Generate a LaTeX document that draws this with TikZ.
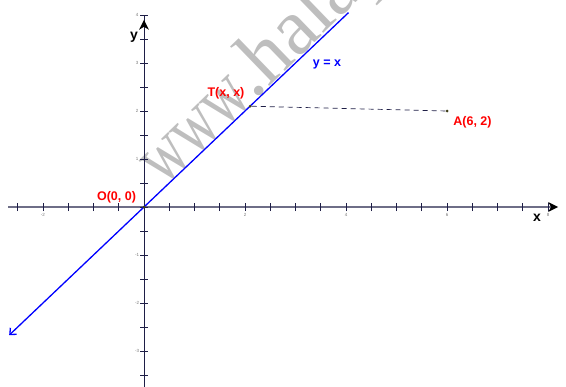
\documentclass[tikz,border=0pt]{standalone}
\usepackage{fontspec}
\setmainfont{Liberation Sans}
\newfontfamily\wmfont{Liberation Serif}
\usetikzlibrary{arrows.meta}
\definecolor{axisnavy}{RGB}{30,30,70}
\definecolor{axisgray}{RGB}{110,110,135}
\definecolor{ptred}{RGB}{255,0,0}
\definecolor{lineblue}{RGB}{0,0,255}
\definecolor{tickgray}{RGB}{120,120,120}
\definecolor{wmgray}{RGB}{190,190,190}
\definecolor{dotcol}{RGB}{60,60,20}
\begin{document}
\begin{tikzpicture}[x=50.5pt,y=48pt,
 lbl/.style={font=\fontsize{12.5}{14}\selectfont\bfseries},
 axlbl/.style={font=\fontsize{14}{16}\selectfont\bfseries},
 ticklbl/.style={font=\fontsize{4.5}{5}\selectfont, text=tickgray, inner sep=0pt},
 ptdot/.style={circle, fill=dotcol, inner sep=0pt, minimum size=3pt},
 tickmark/.style={axisnavy, line width=0.6pt},
 ]
\useasboundingbox (-2.8515,-3.7292) rectangle (8.3564,4.3125);
\clip (-2.8515,-3.7292) rectangle (8.3564,4.3125);
% watermark
\node[font=\wmfont\fontsize{80}{80}\selectfont, text=wmgray, rotate=44, anchor=base west, inner sep=0pt] (wm) at (0.40,0.40) {\scalebox{0.72}[1]{www}.halap};
% x axis
\draw[axisgray, line width=1.2pt] (-2.69,0) -- (8.15,0);
\foreach \i in {-5,...,16} \draw[tickmark] (\i/2,0) +(0pt,-4pt) -- +(0pt,4pt);
\foreach \i in {-2,2,4,6,8} \node[ticklbl, yshift=-8pt] (xt\i) at (\i,0) {\i};
\fill[black] (8.2,0) -- +(-10pt,5pt) -- +(-7pt,0pt) -- +(-10pt,-5pt) -- cycle;
% y axis
\draw[axisnavy, line width=1pt] (0,-3.75) -- (0,4);
\foreach \i in {-7,...,8} \draw[tickmark] (0,\i/2) +(-4pt,0pt) -- +(4pt,0pt);
\foreach \i in {-3,-2,-1,1,2,3,4} \node[ticklbl, xshift=-7pt] (yt\i) at (0,\i) {\i};
\fill[black] (0,3.9) -- +(-5pt,-10pt) -- +(0pt,-7pt) -- +(5pt,-10pt) -- cycle;
% line y = x
\coordinate (L1) at (4.05,4.05);
\coordinate (L2) at (-2.67,-2.67);
\draw[lineblue, line width=1.3pt, -{Straight Barb[length=5pt,width=9pt]}] (L1) -- (L2);
% points
\node[ptdot] (O) at (0,0) {};
\node[ptdot] (T) at (2.1,2.1) {};
\node[ptdot] (A) at (6,2) {};
\draw[axisnavy, dash pattern=on 5pt off 4pt, line width=0.7pt] (T) -- (A);
% labels
\node[lbl, text=ptred] (Olbl) at (-0.545,0.208) {O(0, 0)};
\node[lbl, text=ptred] (Tlbl) at (1.624,2.375) {T(x, x)};
\node[lbl, text=ptred] (Albl) at (6.505,1.771) {A(6, 2)};
\node[lbl, text=lineblue] (eq) at (3.624,2.979) {y = x};
\node[axlbl] (ylbl) at (-0.198,3.542) {y};
\node[axlbl] (xlbl) at (7.782,-0.229) {x};
\end{tikzpicture}
\end{document}
